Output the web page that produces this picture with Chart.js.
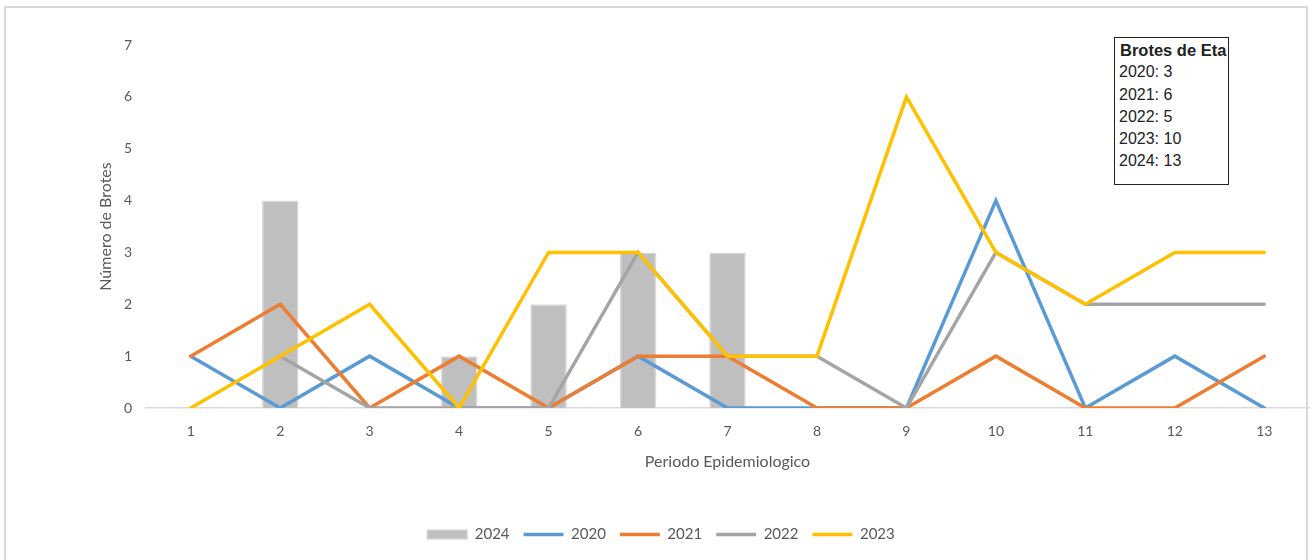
<!DOCTYPE html>
<html>
<head>
<meta charset="utf-8">
<script src="https://cdn.jsdelivr.net/npm/chart.js@4.4.0/dist/chart.umd.min.js"></script>
<style>
  html, body { margin: 0; padding: 0; background: #fff; }
  #wrap { position: relative; width: 1315px; height: 560px; overflow: hidden; }
  #frame { position: absolute; left: 4px; top: 6px; width: 1304px; height: 600px;
           border: 2px solid #D9D9D9; box-sizing: border-box; }
  canvas { position: absolute; left: 0; top: 0; }
  #note { position: absolute; left: 1114px; top: 37px; width: 115px; height: 148px;
          border: 1.5px solid #222; box-sizing: border-box; background: #fff;
          font-family: "Liberation Sans", Arial, sans-serif; color: #222;
          padding: 1px 0 0 4px; line-height: 22.3px; font-size: 16px; }
  #note b { font-size: 16.5px; display: block; margin-left: 1px; }
</style>
</head>
<body>
<div id="wrap">
  <div id="frame"></div>
  <canvas id="c" width="1315" height="560"></canvas>
  <div id="note"></div>
</div>
<script>
const periods = ['1','2','3','4','5','6','7','8','9','10','11','12','13'];
const yTicks = [0,1,2,3,4,5,6,7];
const s2024 = [0,4,0,1,2,3,3,0,0,0,0,0,0];
const s2020 = [1,0,1,0,0,1,0,0,0,4,0,1,0];
const s2021 = [1,2,0,1,0,1,1,0,0,1,0,0,1];
const s2022 = [null,1,0,0,0,3,1,1,0,3,2,2,2];
const s2023 = [0,1,2,0,3,3,1,1,6,3,2,3,3];
const noteTitle = 'Brotes de Eta';
const noteLines = ['2020: 3','2021: 6','2022: 5','2023: 10','2024: 13'];

document.getElementById('note').innerHTML =
  '<b>' + noteTitle + '</b>' + noteLines.map(l => '<div>' + l + '</div>').join('');

const FONT = 'Lato, "Open Sans", sans-serif';
const TXT = '#595959';

function lineDs(label, data, color, order) {
  return { type: 'line', label, data, borderColor: color, backgroundColor: color,
           borderWidth: 3.5, pointRadius: 0, pointHoverRadius: 0, pointStyle: 'line',
           tension: 0, borderCapStyle: 'round', borderJoinStyle: 'miter', order, spanGaps: false };
}

new Chart(document.getElementById('c'), {
  data: {
    labels: periods,
    datasets: [
      { type: 'bar', label: '2024', data: s2024, backgroundColor: '#BFBFBF',
        borderColor: '#D9D9D9', borderWidth: 1.5, pointStyle: 'rect',
        barPercentage: 0.41, categoryPercentage: 1, order: 5 },
      lineDs('2020', s2020, '#5B9BD5', 4),
      lineDs('2021', s2021, '#ED7D31', 3),
      lineDs('2022', s2022, '#A5A5A5', 2),
      lineDs('2023', s2023, '#FFC000', 1)
    ]
  },
  options: {
    responsive: false,
    animation: false,
    layout: { padding: { left: 13, right: 6, top: 45, bottom: 8 } },
    plugins: {
      tooltip: { enabled: false },
      legend: {
        position: 'bottom',
        labels: {
          sort: (a, b) => a.datasetIndex - b.datasetIndex,
          usePointStyle: true, pointStyleWidth: 40, boxHeight: 9,
          color: TXT, font: { family: FONT, size: 15 }, padding: 14
        }
      }
    },
    scales: {
      x: {
        grid: { display: false, drawTicks: false },
        border: { display: true, color: '#D9D9D9', width: 1.5 },
        ticks: { color: TXT, font: { family: FONT, size: 14 }, padding: 15 },
        title: { display: true, text: 'Periodo Epidemiologico', color: TXT,
                 font: { family: FONT, size: 16 }, padding: { top: 10, bottom: 42 } },
        afterFit: (s) => { s.height = 105; }
      },
      y: {
        min: 0, max: 7,
        grid: { display: false, drawTicks: false },
        border: { display: false },
        afterBuildTicks: (s) => { s.ticks = yTicks.map(v => ({ value: v })); },
        ticks: { color: TXT, font: { family: FONT, size: 14 }, padding: 14 },
        title: { display: true, text: 'Número de Brotes', color: TXT,
                 font: { family: FONT, size: 16 }, padding: { top: 83, bottom: 0 } },
        afterFit: (s) => { s.width = 133; }
      }
    }
  }
});
</script>
</body>
</html>
